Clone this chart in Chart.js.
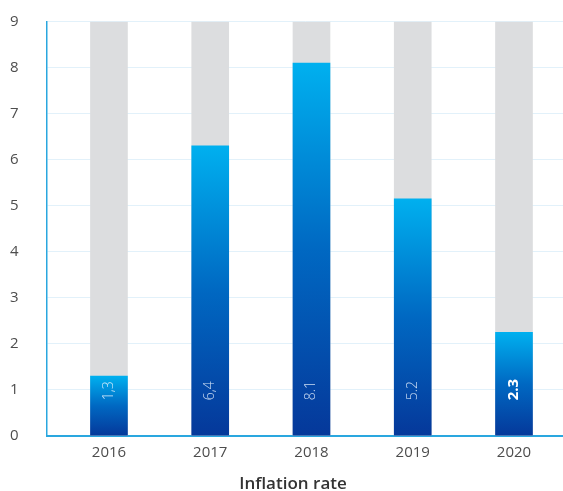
<!DOCTYPE html>
<html>
<head>
<meta charset="utf-8">
<script src="https://cdn.jsdelivr.net/npm/chart.js@4/dist/chart.umd.min.js"></script>
<style>
  html, body { margin: 0; padding: 0; background: #fff; }
  #wrap { width: 563px; height: 491px; }
</style>
</head>
<body>
<div id="wrap"><canvas id="inflation"></canvas></div>
<script>
const years = [2016, 2017, 2018, 2019, 2020];
const inflation = [1.3, 6.3, 8.1, 5.15, 2.25];
const valueLabels = ['1,3', '6,4', '8.1', '5.2', '2.3'];
const trackValues = [9, 9, 9, 9, 9];

const font = '"Open Sans", "Noto Sans", sans-serif';
const highlightYear = 2020;

function barGradient(ctx) {
  const chart = ctx.chart;
  if (!chart.chartArea) return '#0070c8';
  const y = chart.scales.y;
  const top = y.getPixelForValue(inflation[ctx.dataIndex]);
  const bottom = y.getPixelForValue(0);
  const g = chart.ctx.createLinearGradient(0, top, 0, bottom);
  g.addColorStop(0, '#00b0ef');
  g.addColorStop(0.5, '#0068c2');
  g.addColorStop(1, '#05389a');
  return g;
}

// rotated value text inside each blue bar
const valueText = {
  id: 'valueText',
  afterDatasetsDraw(chart) {
    const c = chart.ctx;
    const meta = chart.getDatasetMeta(0);
    meta.data.forEach((bar, i) => {
      const bold = years[i] === highlightYear;
      c.save();
      c.translate(bar.x, bar.base - 35);
      c.rotate(-Math.PI / 2);
      c.font = (bold ? '700 15px ' : '300 14px ') + font;
      c.fillStyle = bold ? '#ffffff' : 'rgba(235,245,255,0.85)';
      c.textAlign = 'left';
      c.textBaseline = 'middle';
      c.fillText(valueLabels[i], 0, 0);
      c.restore();
    });
  }
};

new Chart(document.getElementById('inflation'), {
  type: 'bar',
  data: {
    labels: years,
    datasets: [{
      data: inflation,
      backgroundColor: barGradient,
      barThickness: 37,
      grouped: false
    }, {
      data: trackValues,
      backgroundColor: '#dcdddf',
      barThickness: 37,
      grouped: false
    }]
  },
  options: {
    responsive: true,
    maintainAspectRatio: false,
    animation: false,
    layout: { padding: { top: 21.7, left: 23, right: 0, bottom: 0 } },
    plugins: {
      legend: { display: false },
      tooltip: { enabled: false },
      title: {
        display: true,
        position: 'bottom',
        text: 'Inflation rate',
        color: '#333333',
        font: { family: font, size: 17, weight: '600' },
        padding: { top: 0, bottom: -3.2 }
      }
    },
    scales: {
      x: {
        type: 'linear',
        offset: false,
        min: 2015.388,
        max: 2020.484,
        afterBuildTicks: s => { s.ticks = years.map(v => ({ value: v })); },
        afterFit: s => { s.height = 38; },
        grid: { display: false, drawTicks: false },
        border: { display: true, color: '#2aa7df', width: 2 },
        ticks: {
          padding: 8,
          color: '#4d4d4d',
          font: { family: font, size: 15 },
          callback: v => String(v)
        }
      },
      y: {
        min: 0,
        max: 9,
        afterFit: s => { s.width = 24; s.paddingTop = 0; s.paddingBottom = 0; },
        grid: { color: '#e2f1fa', lineWidth: 1, drawTicks: false },
        border: { display: true, color: '#2aa7df', width: 1.5 },
        ticks: {
          stepSize: 1,
          mirror: true,
          padding: -37,
          color: '#4d4d4d',
          font: { family: font, size: 15 }
        }
      }
    }
  },
  plugins: [valueText]
});
</script>
</body>
</html>
